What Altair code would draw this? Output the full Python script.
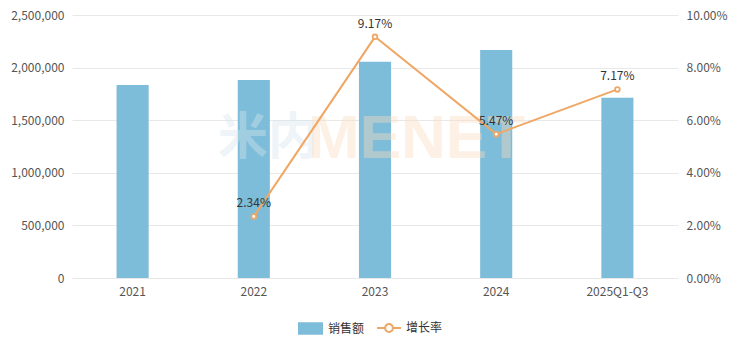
import altair as alt
import pandas as pd

categories = ["2021", "2022", "2023", "2024", "2025Q1-Q3"]
sales = [1835000, 1882000, 2056000, 2167000, 1714000]
growth = [None, 2.34, 9.17, 5.47, 7.17]

bar_name = "销售额"
line_name = "增长率"
bar_color = "#7ebdd9"
line_color = "#efa766"
font = "Noto Sans CJK SC"

df = pd.DataFrame({"cat": categories, "sales": sales, "growth": growth,
                   "s": bar_name, "g": line_name})
df_line = df.dropna(subset=["growth"])

x = alt.X("cat:N", sort=categories, title=None,
          scale=alt.Scale(paddingInner=0.735, paddingOuter=0.3675),
          axis=alt.Axis(labelAngle=0, domain=False, ticks=False, labelPadding=8,
                        labelColor="#555", labelFontSize=12, labelFont=font))

bars = alt.Chart(df).mark_bar().encode(
    x=x,
    y=alt.Y("sales:Q", title=None,
            scale=alt.Scale(domain=[0, 2500000]),
            axis=alt.Axis(values=[0, 500000, 1000000, 1500000, 2000000, 2500000],
                          format=",d", domain=False, ticks=False, labelPadding=8,
                          gridColor="#e8e8e8", labelColor="#555", labelFontSize=12,
                          labelFont=font)),
    color=alt.Color("s:N", scale=alt.Scale(domain=[bar_name], range=[bar_color]),
                    legend=alt.Legend(title=None, orient="none", legendX=225, legendY=300,
                                      padding=0, direction="horizontal",
                                      symbolType="M-1,-0.5H1V0.5H-1Z",
                                      symbolSize=625, labelFontSize=12,
                                      labelColor="#333", labelFont=font)),
)

line_base = alt.Chart(df_line).encode(
    x=x,
    y=alt.Y("growth:Q", title=None,
            scale=alt.Scale(domain=[0, 10]),
            axis=alt.Axis(orient="right", values=[0, 2, 4, 6, 8, 10],
                          labelExpr="format(datum.value, '.2f') + '%'",
                          domain=False, ticks=False, grid=False, labelPadding=8,
                          labelColor="#555", labelFontSize=12, labelFont=font)),
)

line = line_base.mark_line(strokeWidth=2).encode(
    stroke=alt.Stroke("g:N", scale=alt.Scale(domain=[line_name], range=[line_color]),
                      legend=alt.Legend(title=None, orient="none", legendX=304, legendY=300,
                                        padding=0, direction="horizontal",
                                        symbolType="M-1,0H-0.33M0.33,0H1M0.33,0A0.33,0.33 0 1,1 -0.33,0A0.33,0.33 0 1,1 0.33,0",
                                        symbolSize=576, symbolStrokeWidth=2,
                                        symbolFillColor="white",
                                        labelFontSize=12, labelColor="#333",
                                        labelFont=font)),
)

points = line_base.mark_point(shape="circle", size=22, filled=True, fill="white",
                              stroke=line_color, strokeWidth=1.8, opacity=1)

labels = line_base.transform_calculate(
    lbl="format(datum.growth, '.2f') + '%'"
).mark_text(dy=-13, fontSize=12, color="#333", font=font).encode(text="lbl:N")

wm1 = alt.Chart(pd.DataFrame({"t": ["米内"]})).mark_text(
    fontSize=50, fontWeight="bold", color="#d6e6ee", opacity=0.4, align="left",
    baseline="middle", font=font).encode(x=alt.value(146), y=alt.value(124), text="t:N")
wm2 = alt.Chart(pd.DataFrame({"t": ["MENET"]})).mark_text(
    fontSize=62, fontWeight="bold", color="#fcdcc0", opacity=0.4, align="left",
    baseline="middle", font="Liberation Sans").encode(x=alt.value(236), y=alt.value(124), text="t:N")

left = alt.layer(bars, wm1, wm2)
right = alt.layer(line, points, labels)

chart = alt.layer(left, right).resolve_scale(y="independent", color="independent").properties(
    width=606, height=263,
    autosize=alt.AutoSizeParams(type="none"),
    padding={"left": 72, "top": 15, "right": 59, "bottom": 65},
).configure_view(stroke=None)

chart.save("out.html", embed_options={"renderer": "svg", "actions": False})
